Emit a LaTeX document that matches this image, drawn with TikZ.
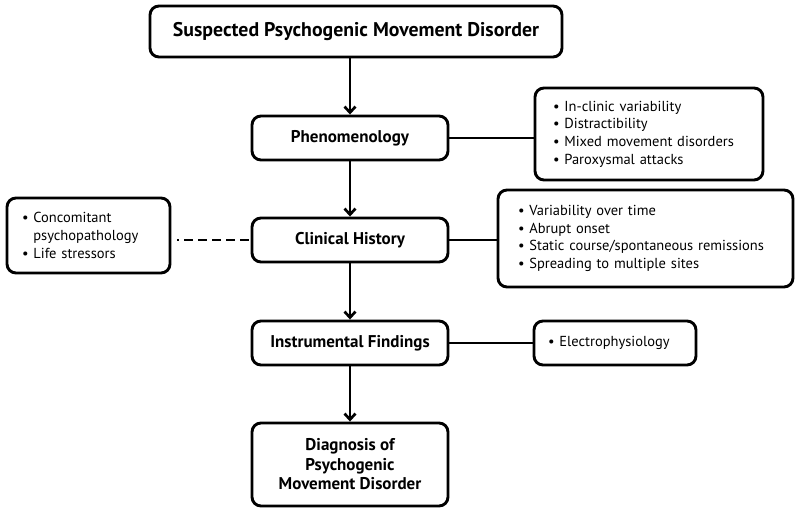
\documentclass[tikz,border=0pt]{standalone}
\usepackage{fontspec}
\setmainfont{PT Sans}
\usetikzlibrary{arrows.meta}
\tikzset{
  mainbox/.style={draw, line width=2.9pt, rounded corners=9pt, minimum width=196pt, minimum height=44pt, inner sep=0pt, font=\bfseries\fontsize{17}{19.5}\selectfont, align=center},
  listbox/.style={draw, line width=2.9pt, rounded corners=9pt, inner ysep=0pt, font=\fontsize{14.5}{17.7}\selectfont, align=left},
  arr/.style={line width=2.7pt, -{Straight Barb[length=6pt,width=11pt,line width=2.7pt]}},
  link/.style={line width=2.7pt}
}
\begin{document}
\begin{tikzpicture}[x=1pt,y=-1pt]
\useasboundingbox (0,0) rectangle (800,513);
\node[mainbox, minimum width=412pt, minimum height=51pt, font=\bfseries\fontsize{19.8}{22}\selectfont] (top) at (356,31.5) {Suspected Psychogenic Movement Disorder};
\node[mainbox] (phen) at (350,138) {Phenomenology};
\node[mainbox] (clin) at (350,240) {Clinical History};
\node[mainbox] (instr) at (350,343) {Instrumental Findings};
\node[mainbox, minimum height=83pt] (diag) at (350,464.5) {Diagnosis of\\Psychogenic\\Movement Disorder};
\node[listbox, minimum width=228pt, minimum height=92pt, text width=192pt, inner xsep=18pt] (pright) at (649,134) {• In-clinic variability\\• Distractibility\\• Mixed movement disorders\\• Paroxysmal attacks};
\node[listbox, minimum width=295pt, minimum height=97pt, text width=255pt, inner xsep=20pt] (cright) at (645.5,238.5) {• Variability over time\\• Abrupt onset\\• Static course/spontaneous remissions\\• Spreading to multiple sites};
\node[listbox, minimum width=163pt, minimum height=75pt, text width=133pt, inner xsep=15pt] (cleft) at (88.5,235.5) {• Concomitant\\\phantom{• }psychopathology\\• Life stressors};
\node[listbox, minimum width=162pt, minimum height=44pt, text width=134pt, inner xsep=14pt] (eright) at (615,343) {• Electrophysiology};
\draw[arr] (phen.north |- top.south) -- (phen.north);
\draw[arr] (phen) -- (clin);
\draw[arr] (clin) -- (instr);
\draw[arr] (instr) -- (diag);
\draw[link] (phen.east) -- (phen.east -| pright.west);
\draw[link] (clin.east) -- (clin.east -| cright.west);
\draw[link] (instr.east) -- (eright.west);
\draw[link, dash pattern=on 9pt off 5pt] ([xshift=-2pt]clin.west) -- ([xshift=6pt]clin.west -| cleft.east);
\end{tikzpicture}
\end{document}
